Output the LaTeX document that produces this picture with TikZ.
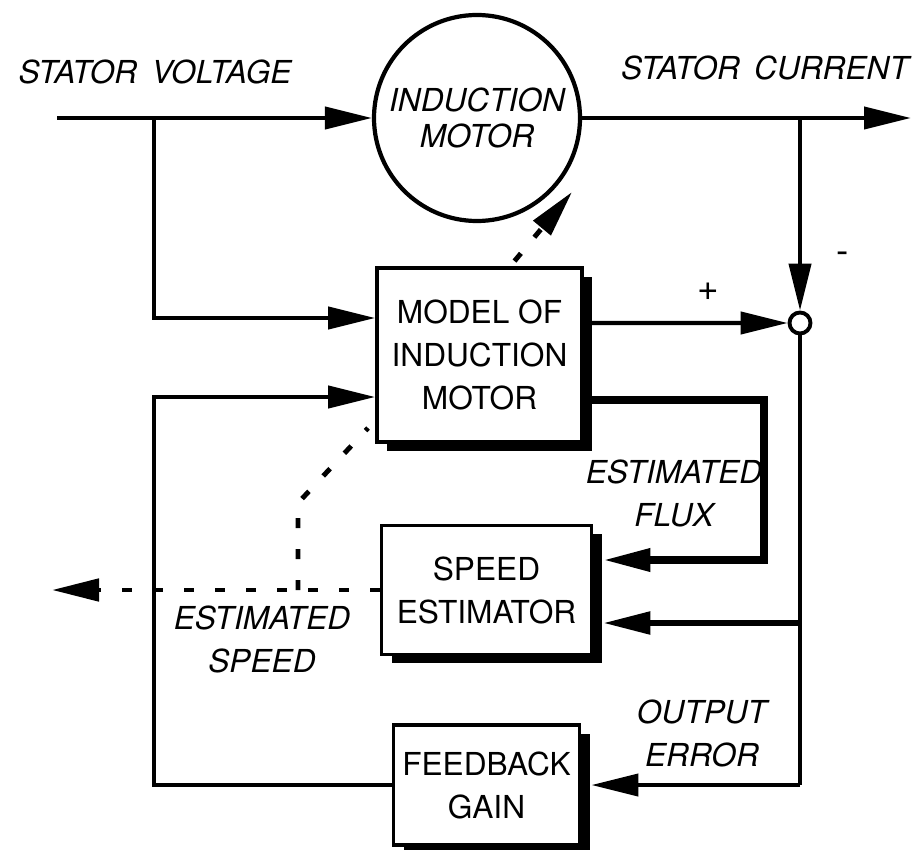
\documentclass[tikz,border=0pt]{standalone}
\usepackage{fontspec}
\setmainfont{TeX Gyre Heros}
\usetikzlibrary{positioning, arrows.meta, calc, shadows}

\begin{document}
\begin{tikzpicture}[
    blk/.style={draw, line width=2.2pt, fill=white, align=center,
                inner sep=2pt, font=\fontsize{18}{24.5}\selectfont,
                drop shadow={shadow xshift=0.2cm, shadow yshift=-0.17cm,
                             fill=black, opacity=1}},
    motorc/.style={circle, draw, line width=2.4pt, minimum size=4.12cm,
                   inner sep=0pt, align=center,
                   font=\itshape\fontsize{18}{20.5}\selectfont},
    sumc/.style={circle, draw, line width=2.2pt, fill=white,
                 minimum size=0.42cm, inner sep=0pt},
    lbl/.style={font=\itshape\fontsize{18}{24.5}\selectfont, align=center},
    sgn/.style={font=\fontsize{21}{21}\selectfont},
    wire/.style={line width=2.4pt},
    midw/.style={line width=3.2pt},
    fat/.style={line width=4pt},
    est/.style={line width=2.8pt, dash pattern=on 0.2cm off 0.42cm},
    arr/.style={-{Triangle[length=0.94cm, width=0.44cm]}},
]

\useasboundingbox (0,0) rectangle (18.28,-16.98);

% Positions
\pgfmathsetmacro{\xL}{3.08}
\pgfmathsetmacro{\xR}{16.0}
\pgfmathsetmacro{\yTop}{-2.36}

% ===== BLOCKS =====
\node[motorc] (motor) at (9.54,\yTop) {INDUCTION\\MOTOR};
\node[blk, minimum width=4.1cm, minimum height=3.48cm] (model) at (9.59,-7.10) {MODEL OF\\INDUCTION\\MOTOR};
\node[blk, minimum width=4.2cm, minimum height=2.58cm] (speed) at (9.73,-11.80) {SPEED\\ESTIMATOR};
\node[blk, minimum width=3.72cm, minimum height=2.4cm] (gain) at (9.73,-15.70) {FEEDBACK\\GAIN};
\node[sumc] (sum) at (\xR,-6.46) {};

% ===== LABELS =====
\node[lbl] (vlbl) at (3.10,-1.44) {STATOR\hspace{0.45em}VOLTAGE};
\node[lbl] (ilbl) at (15.30,-1.36) {STATOR\hspace{0.45em}CURRENT};
\node[sgn] (plus) at (14.16,-5.84) {+};
\node[sgn] (minus) at (16.86,-5.16) {-};
\node[lbl] (fluxlbl) at (13.48,-9.86) {ESTIMATED\\FLUX};
\node[lbl] (spdlbl) at (5.24,-12.78) {ESTIMATED\\SPEED};
\node[lbl] (errlbl) at (14.04,-14.66) {OUTPUT\\ERROR};

% Corner points
\coordinate (vin) at (1.14,\yTop);
\coordinate (vbr) at (\xL,\yTop);
\coordinate (iout) at (18.22,\yTop);
\coordinate (ibr) at (\xR,\yTop);
\coordinate (fluxc) at (15.28,-8.00);
\coordinate (errbr) at (\xR,-12.46);
\coordinate (errc) at (\xR,-15.70);
\coordinate (fbc) at (\xL,-15.70);
\coordinate (spdout) at (1.04,-11.80);
\coordinate (spdbr) at (5.96,-11.80);
\coordinate (spdk) at (5.96,-10.06);
\coordinate (spdm) at (7.36,-8.56);
\coordinate (motk) at (11.44,-3.84);

% ===== SIGNAL PATHS =====
\draw[wire, arr] (vin) -- (motor.west);
\draw[wire, arr] (vbr) |- ([yshift=0.74cm]model.west);
\draw[wire, arr] (motor.east) -- (iout);
\draw[wire, arr] (ibr) -- (sum.north);
\draw[wire, arr] ([yshift=0.64cm]model.east) -- (sum.west);

% flux into speed estimator
\draw[fat, arr] ([yshift=-0.90cm]model.east) -- (fluxc) |- ([xshift=0.2cm, yshift=0.6cm]speed.east);

% output error
\draw[wire] (sum.south) -- (errc);
\draw[midw, arr] (errbr) -- ([xshift=0.2cm, yshift=-0.66cm]speed.east);
\draw[wire, arr] (errc) -- ([xshift=0.2cm]gain.east);
\draw[wire, arr] (gain.west) -- (fbc) |- ([yshift=-0.84cm]model.west);

% ===== ESTIMATED SPEED (dashed) =====
\draw[est, arr] (speed.west) -- (spdout);
\draw[est] (spdbr) -- (spdk) -- (spdm);
\draw[est, arr] ([xshift=0.7cm, yshift=0.1cm]model.north) -- (motk);

\end{tikzpicture}
\end{document}
